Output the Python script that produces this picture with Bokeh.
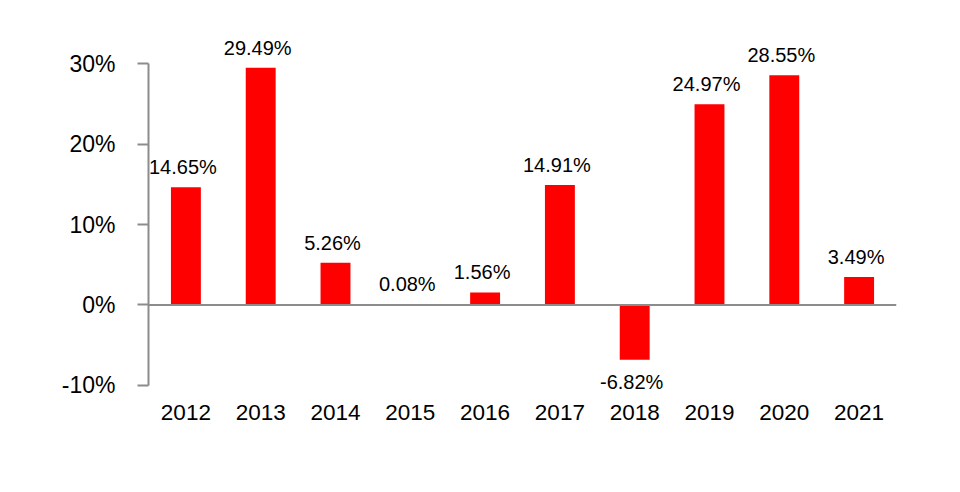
from bokeh.plotting import figure
from bokeh.models import ColumnDataSource, Span, FixedTicker, PrintfTickFormatter, Range1d
from bokeh.core.properties import value
from bokeh.embed import file_html
from bokeh.resources import INLINE

years = ["2012", "2013", "2014", "2015", "2016", "2017", "2018", "2019", "2020", "2021"]
returns = [14.65, 29.49, 5.26, 0.08, 1.56, 14.91, -6.82, 24.97, 28.55, 3.49]
y_ticks = [-10, 0, 10, 20, 30]

FONT = "Liberation Sans"
GRAY = "#8c8c8c"

labels = [f"{v:.2f}%" for v in returns]
pos = ColumnDataSource(dict(x=[y for y, v in zip(years, returns) if v >= 0],
                            y=[v for v in returns if v >= 0],
                            t=[l for l, v in zip(labels, returns) if v >= 0]))
neg = ColumnDataSource(dict(x=[y for y, v in zip(years, returns) if v < 0],
                            y=[v for v in returns if v < 0],
                            t=[l for l, v in zip(labels, returns) if v < 0]))
src = ColumnDataSource(dict(x=years, top=returns))

p = figure(x_range=years, y_range=Range1d(-12, 35), width=952, height=478,
           output_backend="svg", toolbar_location=None,
           min_border_left=148, min_border_right=56, min_border_top=23, min_border_bottom=77)
p.outline_line_color = None
p.grid.visible = False
p.background_fill_color = "white"
p.border_fill_color = "white"

p.vbar(x="x", top="top", bottom=0, width=0.4, source=src, fill_color="#ff0000", line_color=None)

p.add_layout(Span(location=0, dimension="width", line_color=GRAY, line_width=2))

p.text(x="x", y="y", text="t", source=pos, text_align="center", text_baseline="alphabetic",
       x_offset=-3, y_offset=-20, text_font=value(FONT), text_font_size="20px", text_color="black")
p.text(x="x", y="y", text="t", source=neg, text_align="center", text_baseline="top",
       x_offset=-3, y_offset=11, text_font=value(FONT), text_font_size="20px", text_color="black")

yax = p.yaxis[0]
yax.ticker = FixedTicker(ticks=y_ticks)
yax.formatter = PrintfTickFormatter(format="%d%%")
yax.bounds = (-10, 30)
yax.axis_line_color = GRAY
yax.axis_line_width = 2
yax.major_tick_line_color = GRAY
yax.major_tick_line_width = 2
yax.major_tick_out = 11
yax.major_tick_in = 0
yax.minor_tick_line_color = None
yax.major_label_standoff = 22
yax.major_label_text_font = FONT
yax.major_label_text_font_size = "23px"
yax.major_label_text_color = "black"

xax = p.xaxis[0]
xax.axis_line_color = None
xax.major_tick_line_color = None
xax.minor_tick_line_color = None
xax.major_label_standoff = -3
xax.major_label_text_font = FONT
xax.major_label_text_font_size = "22.5px"
xax.major_label_text_color = "black"

open("out.html", "w").write(file_html(p, INLINE))
